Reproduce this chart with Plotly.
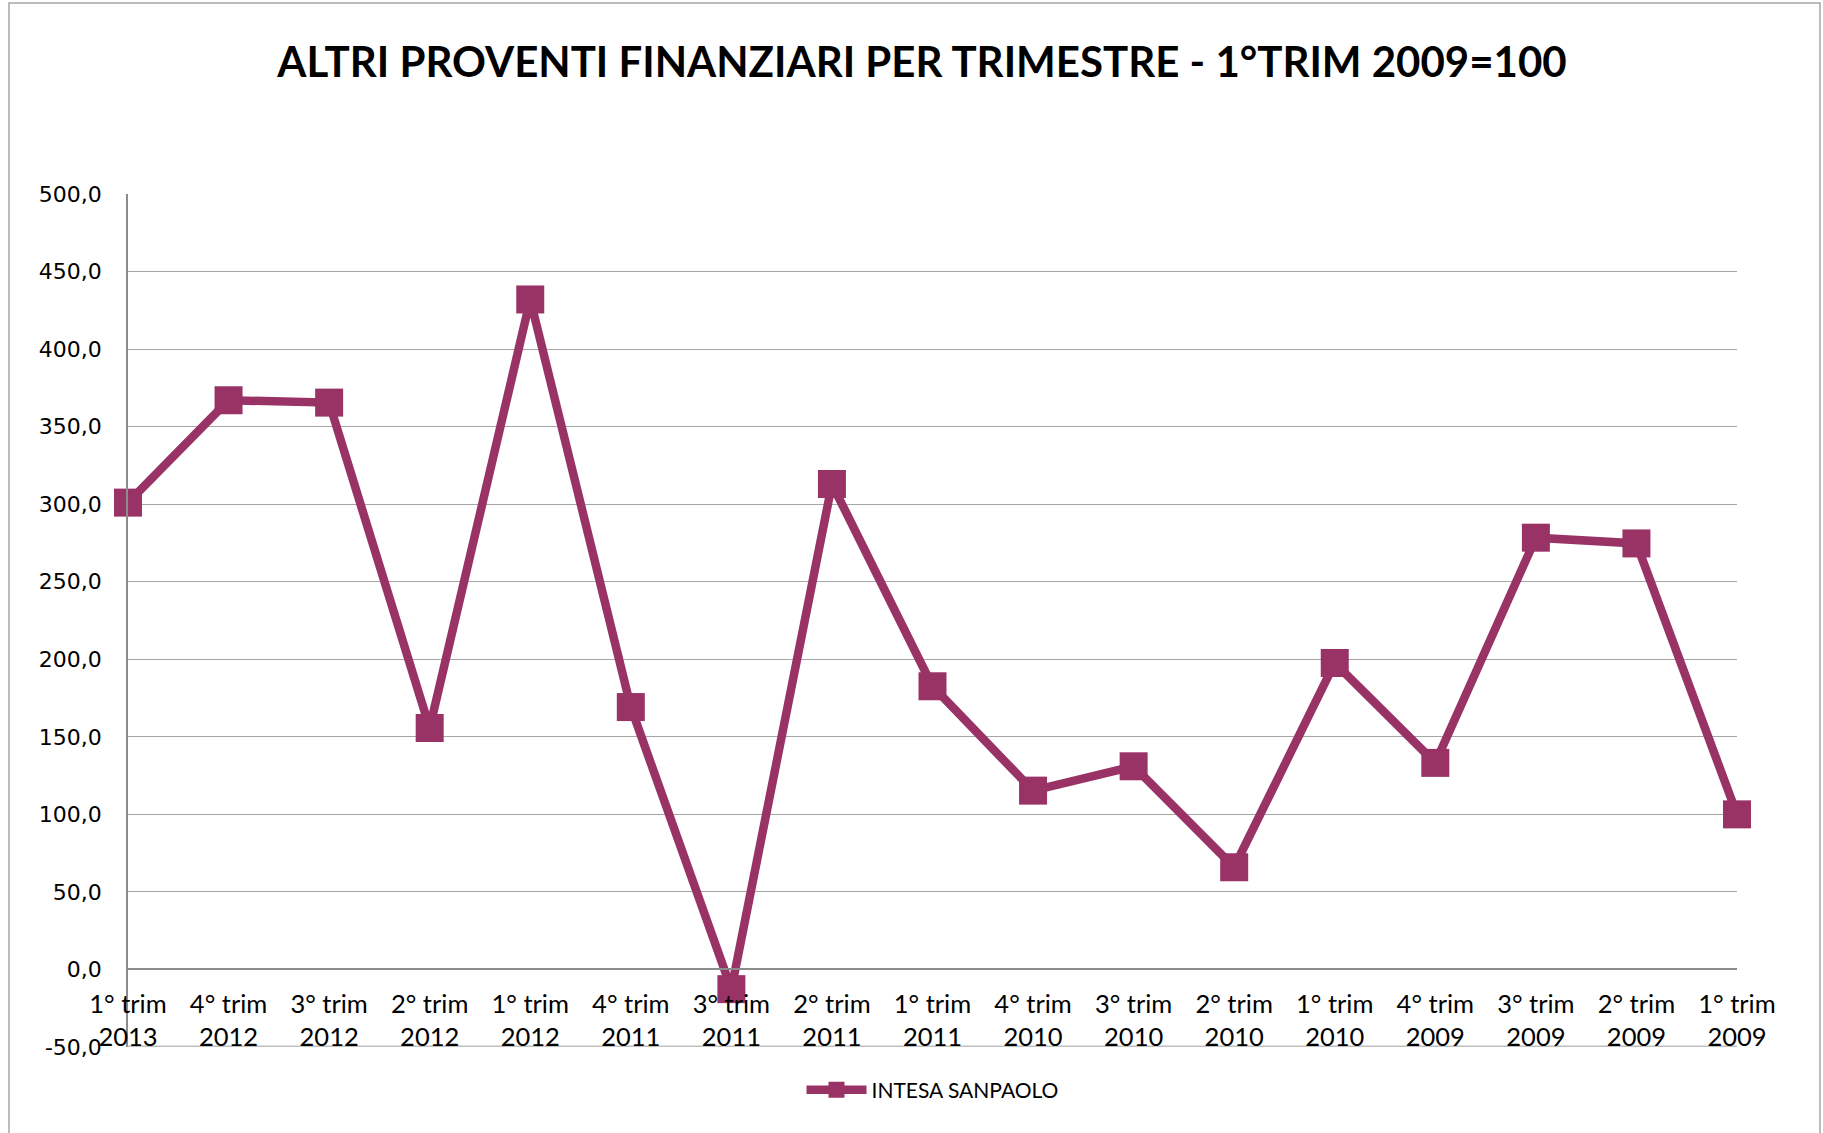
import plotly.graph_objects as go

categories = ["1° trim<br>2013", "4° trim<br>2012", "3° trim<br>2012", "2° trim<br>2012",
              "1° trim<br>2012", "4° trim<br>2011", "3° trim<br>2011", "2° trim<br>2011",
              "1° trim<br>2011", "4° trim<br>2010", "3° trim<br>2010", "2° trim<br>2010",
              "1° trim<br>2010", "4° trim<br>2009", "3° trim<br>2009", "2° trim<br>2009",
              "1° trim<br>2009"]
values = [301.0, 367.0, 365.5, 155.7, 432.0, 169.2, -12.7, 313.0, 182.6,
          115.3, 131.0, 65.9, 197.6, 133.2, 278.4, 274.7, 100.0]
y_ticks = [-50, 0, 50, 100, 150, 200, 250, 300, 350, 400, 450, 500]
series_name = "INTESA SANPAOLO"
title_text = "ALTRI PROVENTI FINANZIARI PER TRIMESTRE - 1°TRIM 2009=100"

color = "#993366"
W, H = 1823, 1133
ml, mr, mt, mb = 128, W - 1737, 194, H - 1047
ymin, ymax = -50, 500
pw, ph = W - ml - mr, H - mt - mb

y_ticktext = [f"{v:.1f}".replace(".", ",") for v in y_ticks]

fig = go.Figure()
fig.add_trace(go.Scatter(
    x=list(range(len(categories))), y=values, mode="lines+markers", name=series_name,
    line=dict(color=color, width=8.5),
    marker=dict(symbol="square", size=28, color=color),
    cliponaxis=False,
))

zero_pos = (0 - ymin) / (ymax - ymin)

fig.update_layout(
    width=W, height=H, autosize=False,
    margin=dict(l=ml, r=mr, t=mt, b=mb),
    paper_bgcolor="white", plot_bgcolor="white",
    title=dict(text="<b>" + title_text + "</b>", x=922 / W, xanchor="center",
               y=1 - 62 / H, yanchor="middle",
               font=dict(family="Lato, Noto Sans", size=42, color="black")),
    xaxis=dict(
        tickmode="array", tickvals=list(range(len(categories))), ticktext=categories,
        range=[0, len(categories) - 1], anchor="free", position=zero_pos,
        showgrid=False, zeroline=False, showline=True, linecolor="#8c8c8c", linewidth=1.5,
        ticks="", ticklabelstandoff=12,
        tickfont=dict(family="Lato, Noto Sans", size=25.5, color="black"),
        fixedrange=True,
    ),
    yaxis=dict(
        range=[ymin, ymax], tickmode="array", tickvals=y_ticks, ticktext=y_ticktext,
        showgrid=True, gridcolor="#a6a6a6", gridwidth=1.2,
        zeroline=False, showline=True, linecolor="#8c8c8c", linewidth=1.5,
        ticks="", ticklabelstandoff=20,
        tickfont=dict(family="DejaVu Sans, Verdana", size=22, color="black"),
    ),
    showlegend=True,
    legend=dict(orientation="h", x=0.5, xanchor="center", y=-(1090 - 1047) / ph,
                yanchor="middle", font=dict(family="Lato, Noto Sans", size=21, color="black"),
                itemwidth=60),
    shapes=[
        dict(type="line", xref="paper", yref="y", x0=0, x1=1, y0=ymin, y1=ymin,
             line=dict(color="#bfbfbf", width=3), layer="below"),
        dict(type="rect", xref="paper", yref="paper",
             x0=(9 - ml) / pw, x1=(1820 - ml) / pw,
             y0=(1047 - 1145) / ph, y1=(1047 - 3) / ph,
             line=dict(color="#a6a6a6", width=1.5), fillcolor="rgba(0,0,0,0)", layer="below"),
    ],
)

fig.write_html("out.html", config={"displayModeBar": False},
               post_script="document.body.style.margin='0';document.body.style.overflow='hidden';")
